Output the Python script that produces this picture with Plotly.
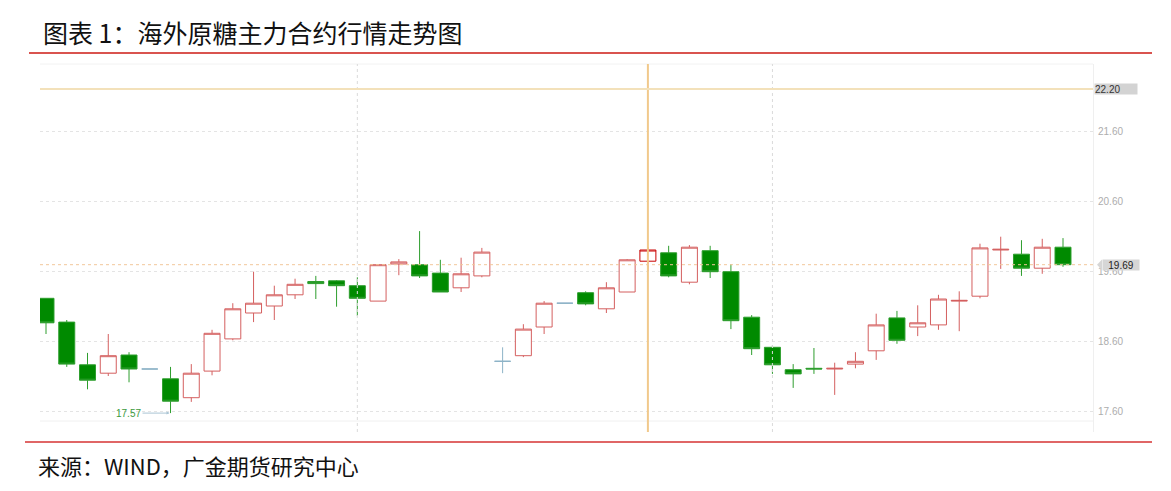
import plotly.graph_objects as go

# ---- data ----
opens  = [19.21, 18.87, 18.26, 18.14, 18.40, 18.20, 18.06, 17.79, 18.17, 18.63,
          19.00, 19.10, 19.26, 19.45, 19.46, 19.39, 19.17, 19.70, 19.69, 19.57,
          19.36, 19.53, 18.31, 18.39, 18.80, 19.14, 19.29, 19.06, 19.30, 19.74,
          19.86, 19.44, 19.89, 19.59, 18.94, 18.51, 18.19, 18.21, 18.20, 18.27,
          18.46, 18.93, 18.80, 18.83, 19.17, 19.24, 19.90, 19.84, 19.64, 19.94]
highs  = [19.21, 18.90, 18.43, 18.70, 18.44, 18.20, 18.23, 18.27, 18.76, 19.14,
          19.59, 19.39, 19.49, 19.53, 19.47, 19.51, 19.70, 19.77, 20.17, 19.76,
          19.79, 19.93, 18.51, 18.84, 19.17, 19.14, 19.31, 19.44, 19.77, 19.94,
          19.96, 19.97, 19.96, 19.70, 18.97, 18.54, 18.27, 18.50, 18.29, 18.44,
          18.99, 19.03, 19.11, 19.26, 19.31, 19.99, 20.09, 20.04, 20.06, 20.07]
lows   = [18.70, 18.23, 17.91, 18.10, 18.01, 18.20, 17.57, 17.73, 18.11, 18.61,
          18.87, 18.90, 19.20, 19.20, 19.09, 18.96, 19.17, 19.54, 19.50, 19.30,
          19.30, 19.51, 18.14, 18.37, 18.70, 19.14, 19.11, 19.00, 19.30, 19.60,
          19.51, 19.41, 19.50, 18.77, 18.40, 18.13, 17.93, 18.13, 17.83, 18.21,
          18.33, 18.56, 18.67, 18.76, 18.74, 19.21, 19.63, 19.53, 19.56, 19.66]
closes = [18.86, 18.27, 18.04, 18.39, 18.20, 18.20, 17.74, 18.14, 18.71, 19.06,
          19.14, 19.26, 19.41, 19.42, 19.39, 19.21, 19.69, 19.73, 19.53, 19.30,
          19.56, 19.87, 18.31, 18.77, 19.14, 19.14, 19.13, 19.36, 19.76, 19.90,
          19.53, 19.94, 19.59, 18.89, 18.49, 18.26, 18.13, 18.20, 18.21, 18.31,
          18.83, 18.61, 18.86, 19.20, 19.18, 19.93, 19.91, 19.64, 19.94, 19.69]

tick_vals = [17.6, 18.6, 19.6, 20.6, 21.6]
tick_text = ["17.60", "18.60", "19.60", "20.60", "21.60"]
cursor_price = 22.20
last_price = 19.69
low_price = 17.57
low_index = 6
selected_index = 29
marker_indices = [15, 35]

title_text = "图表 1：海外原糖主力合约行情走势图"
source_text = "来源：WIND，广金期货研究中心"

# ---- layout geometry helpers (pixels -> paper) ----
W, H = 1171, 491
L, R, T, B = 40, 1093, 64, 432
def px(x):
    return (x - L) / (R - L)
def py(y):
    return (B - y) / (B - T)

RED = "#D45F5F"
GREEN_FILL = "#008A00"
GREEN_LINE = "#2E9E2E"
FLAT = "#8DB3C7"
SEL = "#C80000"

idx = list(range(len(opens)))
up = [i for i in idx if closes[i] > opens[i] and i != selected_index]
down = [i for i in idx if closes[i] < opens[i] and i != selected_index]
flat = [i for i in idx if closes[i] == opens[i] and i != selected_index]
sel = [selected_index]

def candle(ids, line, fill):
    style = dict(line=dict(color=line, width=1), fillcolor=fill)
    return go.Candlestick(
        x=ids,
        open=[opens[i] for i in ids],
        high=[highs[i] for i in ids],
        low=[lows[i] for i in ids],
        close=[closes[i] for i in ids],
        increasing=style, decreasing=style,
        whiskerwidth=0, showlegend=False,
    )

fig = go.Figure()
fig.add_trace(candle(up, RED, "#FFFFFF"))
fig.add_trace(candle(down, GREEN_LINE, GREEN_FILL))
fig.add_trace(candle(flat, FLAT, FLAT))
fig.add_trace(candle(sel, SEL, "#FFFFFF"))

shapes = []
# faint frame lines
shapes.append(dict(type="line", xref="paper", yref="paper", x0=0, x1=1, y0=1, y1=1,
                   line=dict(color="#F2F2F2", width=1)))
shapes.append(dict(type="line", xref="paper", yref="paper", x0=0, x1=1, y0=py(421), y1=py(421),
                   line=dict(color="#F0F0F0", width=1)))
# vertical dotted markers
for m in marker_indices:
    shapes.append(dict(type="line", xref="x", yref="paper", x0=m, x1=m, y0=0, y1=1,
                       line=dict(color="#DADADA", width=1, dash="dot")))
# crosshair
shapes.append(dict(type="line", xref="x", yref="paper", x0=selected_index, x1=selected_index,
                   y0=0, y1=1, line=dict(color="#F1C98C", width=2)))
shapes.append(dict(type="line", xref="paper", yref="y", x0=0, x1=1, y0=cursor_price, y1=cursor_price,
                   line=dict(color="#F3E1BA", width=2)))
# last price dotted line
shapes.append(dict(type="line", xref="paper", yref="y", x0=0, x1=1, y0=last_price, y1=last_price,
                   line=dict(color="#F2C79A", width=1, dash="dot")))
# title / source red rules
shapes.append(dict(type="line", xref="paper", yref="paper", x0=px(29), x1=px(1152), y0=py(53), y1=py(53),
                   line=dict(color="#D9534F", width=2)))
shapes.append(dict(type="line", xref="paper", yref="paper", x0=px(25), x1=px(1152), y0=py(442), y1=py(442),
                   line=dict(color="#E06666", width=2)))
# pointer triangle for last price label
shapes.append(dict(type="path", xref="paper", yref="y",
                   path=f"M {px(1097)} {last_price} L {px(1102)} {last_price + 0.075} L {px(1102)} {last_price - 0.075} Z",
                   fillcolor="#D6D6D6", line=dict(width=0)))

annotations = [
    dict(text=title_text, xref="paper", yref="paper", x=px(41), y=py(32), xanchor="left", yanchor="middle",
         showarrow=False, font=dict(family="Noto Sans CJK SC", size=25, color="#111111")),
    dict(text=source_text, xref="paper", yref="paper", x=px(36), y=py(465), xanchor="left", yanchor="middle",
         showarrow=False, font=dict(family="Noto Sans CJK SC", size=22, color="#111111")),
    dict(text=f"{cursor_price:.2f}", xref="paper", yref="y", x=px(1094), y=cursor_price, xanchor="left",
         yanchor="middle", showarrow=False, bgcolor="#D3D3D3", width=42, height=10, align="left",
         borderpad=0, font=dict(family="Liberation Sans", size=10, color="#333333")),
    dict(text=f"{last_price:.2f}", xref="paper", yref="y", x=px(1102), y=last_price, xanchor="left",
         yanchor="middle", showarrow=False, bgcolor="#D6D6D6", width=36, height=10, align="center",
         borderpad=0, font=dict(family="Liberation Sans", size=10, color="#222222")),
    dict(text=f"{low_price:.2f}", x=low_index, y=low_price, xref="x", yref="y",
         showarrow=True, arrowhead=2, arrowsize=0.6, arrowwidth=1, arrowcolor="#A9C4D4",
         ax=-28, ay=0, xanchor="right", standoff=1,
         font=dict(family="Liberation Sans", size=10, color="#3C9A3C")),
]

fig.update_layout(
    width=W, height=H, autosize=False,
    margin=dict(l=L, r=W - R, t=T, b=H - B, pad=0),
    paper_bgcolor="white", plot_bgcolor="white",
    boxgap=0.23, boxgroupgap=0,
    shapes=shapes, annotations=annotations,
    showlegend=False,
    xaxis=dict(range=[(L - 46) / 20.755, (R - 46) / 20.755], showticklabels=False, showgrid=False,
               zeroline=False, showline=False, ticks="", rangeslider=dict(visible=False), fixedrange=True),
    yaxis=dict(range=[17.6 - (B - 411) / 70, 17.6 + (411 - T) / 70], side="right",
               tickvals=tick_vals, ticktext=tick_text, showgrid=True, gridcolor="#E4E4E4",
               griddash="dot", gridwidth=1, zeroline=False, showline=True, linecolor="#EFEFEF",
               ticks="", ticklabelstandoff=2,
               tickfont=dict(family="Liberation Sans", size=10, color="#ADADAD"), fixedrange=True),
)

fig.write_html("out.html", config={"displayModeBar": False},
               post_script="document.body.style.margin='0';document.body.style.overflow='hidden';")
